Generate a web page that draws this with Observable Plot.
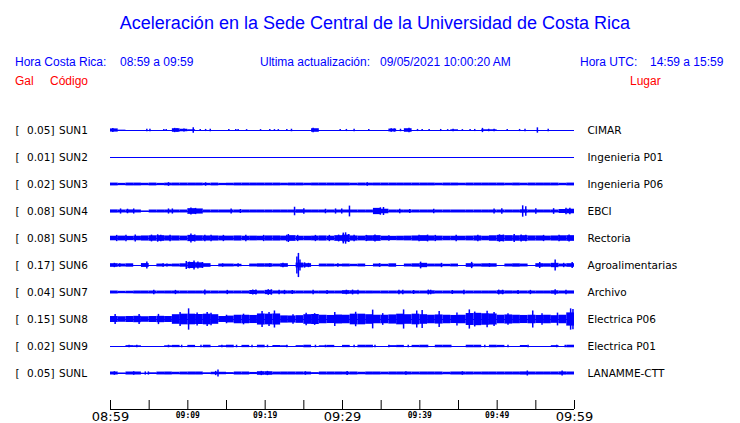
<!DOCTYPE html>
<html>
<head>
<meta charset="utf-8">
<script src="https://cdn.jsdelivr.net/npm/d3@7"></script>
<script src="https://cdn.jsdelivr.net/npm/@observablehq/plot@0.6"></script>
<style>
  html, body { margin: 0; padding: 0; background: #fff; }
  #wrap { width: 740px; height: 423px; position: relative; overflow: hidden; }
  #wrap svg { display: block; }
</style>
</head>
<body>
<div id="wrap"></div>
<script>
// ---------- data ----------
const codes  = ["SUN1","SUN2","SUN3","SUN4","SUN5","SUN6","SUN7","SUN8","SUN9","SUNL"];
const gal    = [0.05, 0.01, 0.02, 0.08, 0.08, 0.17, 0.04, 0.15, 0.02, 0.05];
const places = ["CIMAR","Ingenieria P01","Ingenieria P06","EBCI","Rectoria","Agroalimentarias","Archivo","Electrica P06","Electrica P01","LANAMME-CTT"];

const tickLabels  = ["08:59","09:04","09:09","09:14","09:19","09:24","09:29","09:34","09:39","09:44","09:49","09:54","09:59"];
const majorLabels = ["08:59","09:29","09:59"];
const minorLabels = ["09:09","09:19","09:39","09:49"];

// per-minute envelope (percent of station peak), minutes 0..59 from 08:59
const envSUN1 = [45,10,0,0,0,0,0,0,50,35,20,0,0,0,0,0,0,0,0,0,0,0,0,0,0,0,50,0,0,0,0,0,0,0,0,0,40,0,50,0,0,0,0,0,20,0,0,0,20,20,0,0,0,0,0,0,0,0,0,0];
const envSUN2 = [0,0,0,0,0,0,0,0,0,0,0,0,0,0,0,0,0,0,0,0,0,0,0,0,0,0,0,0,0,0,0,0,0,0,0,0,0,0,0,0,0,0,0,0,0,0,0,0,0,0,0,0,0,0,0,0,0,0,0,0];
const envSUN3 = [100,80,100,100,85,100,80,95,100,100,100,100,85,100,80,90,100,100,100,100,100,100,90,100,100,90,100,100,100,100,100,90,100,95,100,100,100,100,100,100,100,100,90,100,100,90,100,100,100,100,100,90,100,90,100,100,100,100,85,100];
const envSUN4 = [28,26,28,26,10,26,26,26,26,26,50,45,26,26,26,26,26,26,26,26,26,26,26,26,30,26,26,26,26,26,26,26,26,26,55,40,26,26,26,26,26,26,26,26,26,26,26,26,26,26,26,26,26,30,26,26,26,26,35,40];
const envSUN5 = [40,42,38,40,45,48,50,45,45,42,55,48,45,45,42,42,45,40,42,40,45,45,42,50,40,40,42,45,40,50,60,45,42,48,50,40,38,40,42,45,50,45,42,40,40,40,42,45,40,48,55,50,48,50,45,45,42,45,48,50];
const envSUN6 = [15,12,14,0,16,0,12,10,12,14,25,22,15,0,12,12,10,0,12,14,14,12,15,0,20,15,0,12,12,10,12,10,12,0,12,10,14,0,12,14,18,12,12,10,12,0,15,12,14,14,0,12,14,12,0,15,14,18,12,15];
const envSUN7 = [52,42,45,52,52,52,50,52,52,52,52,52,52,52,50,52,52,52,70,55,75,55,55,55,52,52,50,52,52,52,65,60,52,52,50,52,52,52,52,52,52,60,52,52,52,52,52,52,52,52,62,55,52,52,52,52,52,60,52,55];
const envSUN8 = [28,26,28,30,26,28,30,28,45,50,50,47,50,45,28,32,40,40,38,52,50,52,34,33,36,45,47,40,38,42,40,50,50,45,40,40,43,50,45,50,45,40,43,40,38,40,56,58,54,52,40,43,40,38,40,38,40,36,40,62];
const envSUN9 = [0,0,60,50,0,0,0,50,80,0,80,0,90,0,50,90,0,80,0,90,0,70,50,0,60,90,0,50,80,0,80,0,90,90,0,0,60,80,0,80,90,0,90,90,0,0,90,90,0,90,80,0,0,70,0,0,0,60,0,90];
const envSUNL = [42,15,42,42,10,20,40,42,35,40,42,42,20,35,35,25,42,42,30,50,50,40,42,42,42,40,25,42,42,42,40,42,35,42,42,38,42,42,42,40,42,42,42,35,42,42,42,40,42,42,42,42,42,45,42,42,42,42,45,42];

// short bursts / spikes: [minute after 08:59, percent of station peak]
const spkSUN1 = [[0.3,55],[4.7,35],[5.1,35],[6.9,30],[7.2,30],[8.3,60],[8.6,50],[9.5,45],[10.7,75],[11.6,30],[12.3,30],[12.9,35],[15.3,25],[16.2,30],[16.5,30],[17.6,25],[19.4,25],[20.6,30],[21.2,25],[21.7,25],[22.8,30],[23.4,35],[26.2,65],[29.7,30],[30.5,30],[31.5,35],[33.4,30],[36.3,50],[36.7,45],[37.5,35],[38.6,65],[39.7,30],[40.3,25],[41.2,25],[42.7,30],[43.6,25],[44.3,35],[45.5,25],[46.5,30],[47.1,30],[48.1,60],[48.9,35],[49.6,35],[51.3,25],[52.9,30],[53.6,35],[55.2,75],[56.6,35]];
const spkSUN2 = [];
const spkSUN3 = [[7.5,130],[12.3,120],[33.2,120]];
const spkSUN4 = [[1.3,45],[2.2,40],[3.0,45],[7.5,45],[8.0,45],[10.4,60],[11.0,55],[15.6,45],[16.8,35],[23.8,75],[25.0,50],[27.8,40],[29.1,45],[29.9,45],[30.9,95],[34.9,65],[35.3,70],[37.4,40],[38.7,35],[41.8,40],[49.6,45],[50.6,50],[53.3,100],[53.7,85],[55.0,50],[57.3,50],[58.9,55],[59.4,55]];
const spkSUN5 = [[0.8,55],[2.0,55],[3.2,60],[5.3,60],[6.1,65],[6.5,55],[7.7,55],[10.4,80],[10.9,60],[12.2,55],[13.0,55],[14.6,55],[17.5,55],[19.8,55],[22.8,55],[23.0,70],[24.2,55],[26.5,55],[28.3,55],[29.5,60],[30.1,95],[30.4,100],[30.8,70],[31.5,55],[33.1,55],[34.2,60],[36.0,50],[39.9,55],[41.0,60],[42.0,55],[44.7,55],[47.5,55],[50.3,65],[50.8,60],[52.2,70],[53.1,60],[53.7,55],[56.0,55],[58.0,55],[59.3,60]];
const spkSUN6 = [[0.5,18],[1.2,15],[4.7,28],[6.8,14],[7.3,12],[9.8,33],[10.2,28],[10.8,38],[11.3,30],[11.9,25],[14.5,14],[16.5,14],[20.6,15],[22.3,18],[24.1,70],[24.3,100],[24.5,45],[25.1,22],[25.6,18],[29.4,14],[34.8,15],[40.1,28],[42.8,18],[46.7,26],[49.0,15],[55.5,25],[57.5,45],[58.6,18],[59.7,25]];
const spkSUN7 = [[5.6,75],[8.4,75],[12.2,85],[15.1,75],[18.4,90],[18.8,85],[20.4,100],[20.8,95],[21.8,75],[22.5,75],[23.5,70],[26.2,75],[28.0,70],[30.5,80],[31.3,85],[32.0,75],[37.3,75],[37.8,80],[39.2,70],[41.1,85],[41.4,80],[44.2,70],[45.7,75],[50.2,85],[50.7,80],[52.7,70],[54.3,75],[57.5,95],[58.9,75]];
const spkSUN8 = [[0.6,48],[3.7,48],[6.2,48],[9.0,65],[10.1,100],[11.2,62],[12.5,65],[13.0,58],[15.0,40],[17.2,50],[19.6,75],[20.5,65],[21.2,80],[23.6,45],[25.3,58],[26.4,55],[29.0,65],[31.7,68],[33.9,88],[35.2,55],[37.9,90],[39.6,80],[40.3,85],[42.5,75],[44.8,60],[46.4,90],[47.1,70],[48.7,78],[49.6,65],[51.4,55],[54.6,80],[55.8,55],[57.8,60],[59.5,100],[59.8,95]];
const spkSUN9 = [[2.4,90],[3.4,90],[7.5,90],[9.2,90],[11.7,90],[14.4,90],[16.3,90],[18.3,90],[20.3,90],[22.8,90],[26.5,90],[27.8,90],[31.5,90],[34.2,90],[36.0,90],[38.5,90],[41.0,90],[44.0,90],[48.4,90],[51.4,90],[54.0,90],[57.7,90],[58.8,90]];
const spkSUNL = [[0.5,50],[3.0,50],[4.5,45],[4.9,45],[13.6,60],[13.9,100],[19.5,60],[20.3,60],[25.2,50],[30.6,55],[38.2,50],[45.5,50],[53.9,70],[58.4,70]];

// ---------- build tables ----------
const envs = {SUN1: envSUN1, SUN2: envSUN2, SUN3: envSUN3, SUN4: envSUN4, SUN5: envSUN5,
              SUN6: envSUN6, SUN7: envSUN7, SUN8: envSUN8, SUN9: envSUN9, SUNL: envSUNL};
const spks = {SUN1: spkSUN1, SUN2: spkSUN2, SUN3: spkSUN3, SUN4: spkSUN4, SUN5: spkSUN5,
              SUN6: spkSUN6, SUN7: spkSUN7, SUN8: spkSUN8, SUN9: spkSUN9, SUNL: spkSUNL};

const T0 = Date.UTC(2021, 4, 9, 8, 59);
const atMin = m => new Date(T0 + m * 60000);
const parseHM = s => { const [h, mi] = s.split(":").map(Number); return new Date(Date.UTC(2021, 4, 9, h, mi)); };

const stations = codes.map((c, i) => ({code: c, gal: gal[i], place: places[i]}));
const envRows = codes.flatMap((c, i) => envs[c].map((p, m) => ({code: c, t1: atMin(m), t2: atMin(m + 1), a: p / 100 * gal[i]})));
const spkRows = codes.flatMap((c, i) => spks[c].map(([m, p]) => ({code: c, t: atMin(m), a: p / 100 * gal[i]})));

const BLUE = "#0000ff";
const yDom = [-0.19, 0.19];

// ---------- header ----------
const wrap = d3.select("#wrap");
const head = wrap.append("svg").attr("width", 740).attr("height", 100)
  .style("font-family", "'Liberation Sans', Arial, sans-serif");
head.append("text").attr("x", 375).attr("y", 28.5).attr("text-anchor", "middle")
  .attr("font-size", 18).attr("fill", BLUE)
  .text("Aceleración en la Sede Central de la Universidad de Costa Rica");
const hdr = [
  [15, 65.5, "Hora Costa Rica:", BLUE], [120, 65.5, "08:59 a 09:59", BLUE],
  [260, 65.5, "Ultima actualización:", BLUE], [380, 65.5, "09/05/2021 10:00:20 AM", BLUE],
  [580, 65.5, "Hora UTC:", BLUE], [650, 65.5, "14:59 a 15:59", BLUE],
  [15, 85, "Gal", "#ff0000"], [50, 85, "Código", "#ff0000"], [630, 85, "Lugar", "#ff0000"]
];
for (const [x, y, s, c] of hdr) {
  head.append("text").attr("x", x).attr("y", y).attr("font-size", 12).attr("fill", c).text(s);
}

// ---------- plot ----------
const lab = {fontFamily: "'DejaVu Sans', sans-serif", fontSize: 10.5, fill: "black"};
const chart = Plot.plot({
  width: 740,
  height: 323,
  marginLeft: 110,
  marginRight: 166,
  marginTop: 16.5,
  marginBottom: 36.5,
  style: {background: "white", color: "black", overflow: "visible"},
  x: {type: "utc", domain: [atMin(0), atMin(60)]},
  y: {domain: yDom, axis: null},
  fy: {domain: codes, padding: 0, round: false, axis: null},
  marks: [
    Plot.ruleY(stations, {fy: "code", y: 0, stroke: BLUE, strokeWidth: 1}),
    Plot.rect(envRows, {fy: "code", x1: "t1", x2: "t2", y1: d => -d.a, y2: d => d.a, fill: BLUE}),
    Plot.ruleX(spkRows, {fy: "code", x: "t", y1: d => -d.a, y2: d => d.a, stroke: BLUE, strokeWidth: 1.5}),
    // left labels
    Plot.text(stations, {fy: "code", text: () => "[", frameAnchor: "left", dx: -95, textAnchor: "start", ...lab}),
    Plot.text(stations, {fy: "code", text: d => d3.format(".2f")(d.gal) + "]", frameAnchor: "left", dx: -56, textAnchor: "end", ...lab}),
    Plot.text(stations, {fy: "code", text: "code", frameAnchor: "left", dx: -51.5, textAnchor: "start", ...lab}),
    // right labels
    Plot.text(stations, {fy: "code", text: "place", frameAnchor: "right", dx: 13, textAnchor: "start", ...lab}),
    // time axis
    Plot.ruleY([codes[codes.length - 1]], {fy: d => d, y: yDom[0], dy: 22.5, stroke: "black"}),
    Plot.axisX(tickLabels.map(parseHM), {tickSize: 9, dy: 13.5, tickFormat: () => ""}),
    Plot.axisX(majorLabels.map(parseHM), {tickSize: 0, tickPadding: 2, dy: 22.5, tickFormat: d3.utcFormat("%H:%M"),
      fontSize: 13, fontFamily: "'DejaVu Sans', sans-serif"}),
    Plot.axisX(minorLabels.map(parseHM), {tickSize: 0, tickPadding: 3, dy: 22.5, tickFormat: d3.utcFormat("%H:%M"),
      fontSize: 8, fontWeight: "bold", fontFamily: "'DejaVu Sans Mono', monospace"})
  ]
});
wrap.node().appendChild(chart);
</script>
</body>
</html>
